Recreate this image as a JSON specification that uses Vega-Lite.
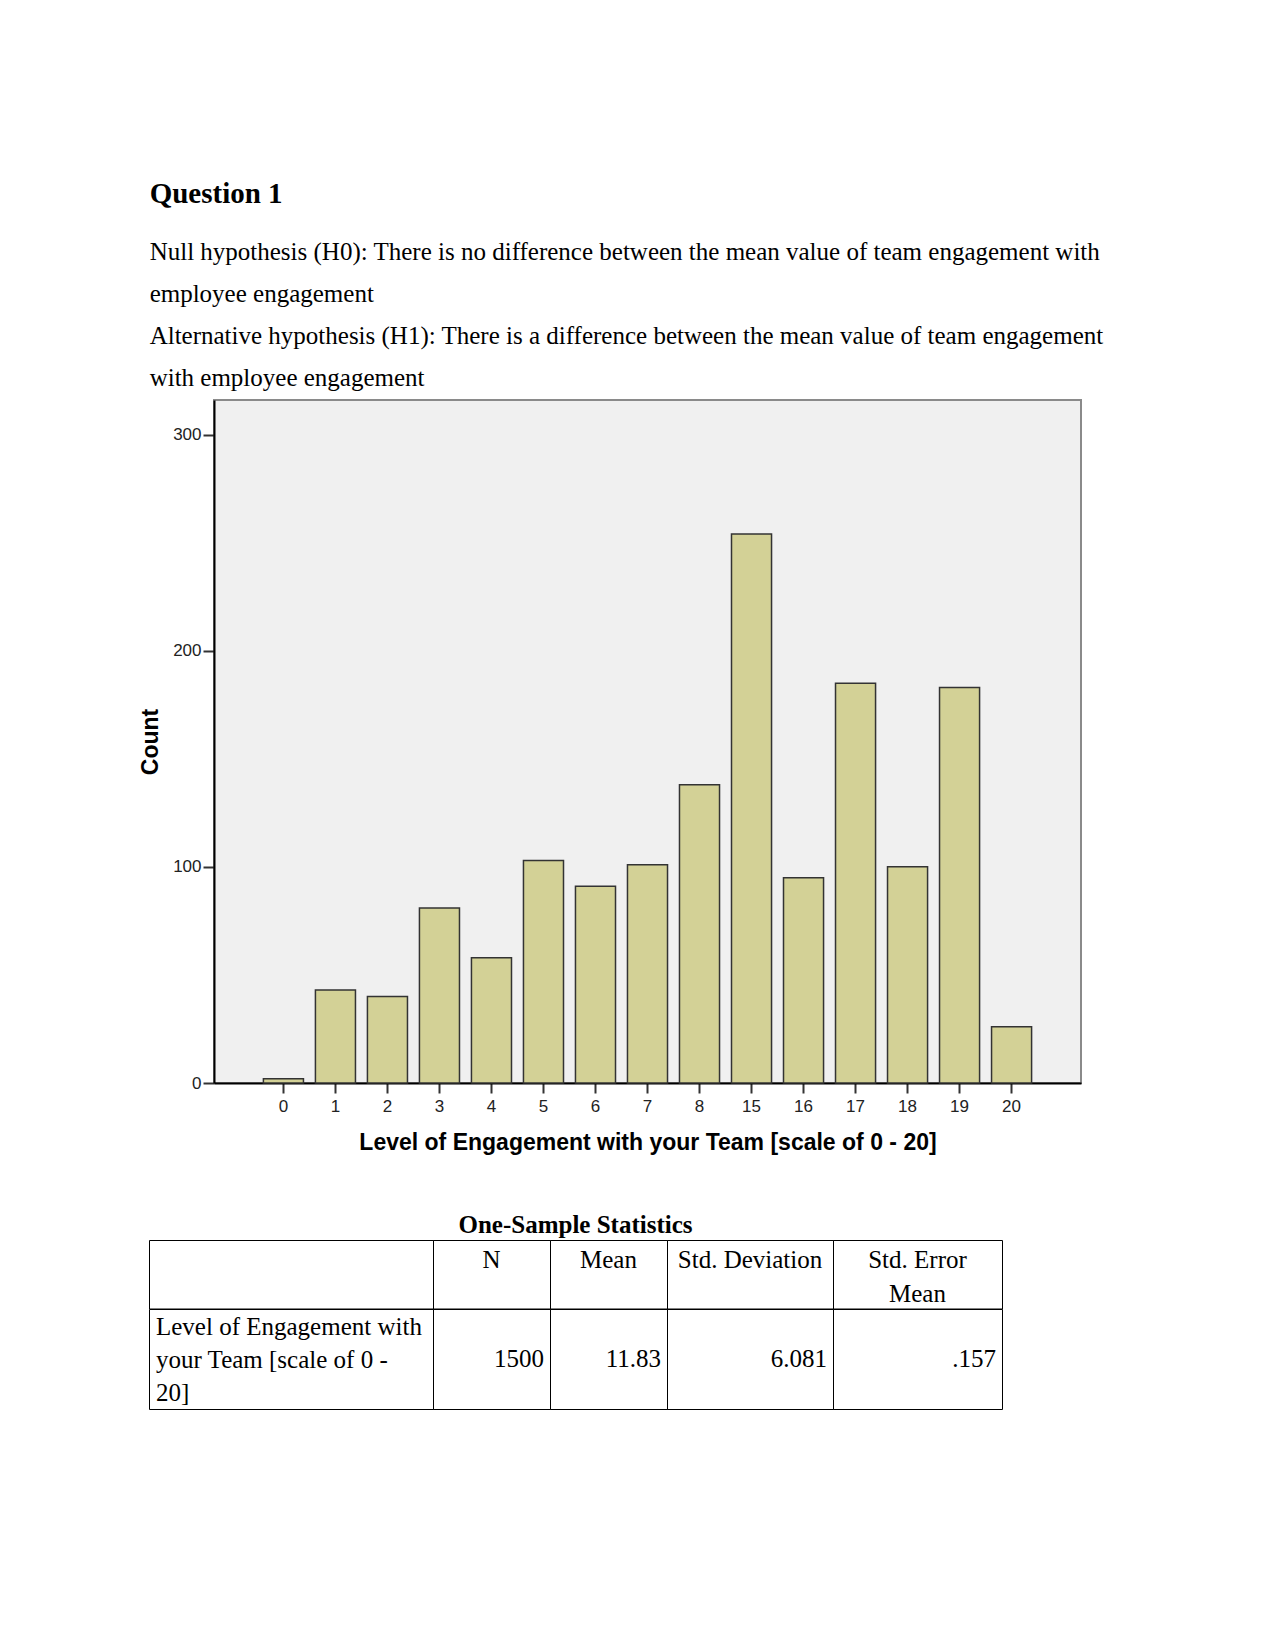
{
  "$schema": "https://vega.github.io/schema/vega-lite/v6.json",
  "background": "white",
  "padding": {"left": 138, "top": 179, "right": 5, "bottom": 5},
  "config": {
    "font": "Liberation Sans",
    "view": {"stroke": null},
    "concat": {"spacing": 0}
  },
  "datasets": {
    "bars": [
      {"level": "0", "count": 2},
      {"level": "1", "count": 43},
      {"level": "2", "count": 40},
      {"level": "3", "count": 81},
      {"level": "4", "count": 58},
      {"level": "5", "count": 103},
      {"level": "6", "count": 91},
      {"level": "7", "count": 101},
      {"level": "8", "count": 138},
      {"level": "15", "count": 254},
      {"level": "16", "count": 95},
      {"level": "17", "count": 185},
      {"level": "18", "count": 100},
      {"level": "19", "count": 183},
      {"level": "20", "count": 26}
    ],
    "stats": [
      {"col": "label", "header": "", "value": "Level of Engagement with\nyour Team [scale of 0 -\n20]"},
      {"col": "N", "header": "N", "value": "1500"},
      {"col": "Mean", "header": "Mean", "value": "11.83"},
      {"col": "SD", "header": "Std. Deviation", "value": "6.081"},
      {"col": "SE", "header": "Std. Error\nMean", "value": ".157"}
    ]
  },
  "spacing": 57,
  "vconcat": [
    {
      "spacing": -12,
      "hconcat": [
        {
          "data": {"values": [{}]},
          "width": 1,
          "height": 1,
          "mark": {"type": "text", "text": ""}
        },
        {
          "data": {"name": "bars"},
          "width": 867,
          "height": 683,
          "title": {
            "text": "Question 1",
            "subtitle": [
              "Null hypothesis (H0): There is no difference between the mean value of team engagement with",
              "employee engagement",
              "Alternative hypothesis (H1): There is a difference between the mean value of team engagement",
              "with employee engagement"
            ],
            "anchor": "start",
            "frame": "bounds",
            "dx": 10,
            "font": "Liberation Serif",
            "fontSize": 29,
            "fontWeight": "bold",
            "color": "black",
            "subtitleFont": "Liberation Serif",
            "subtitleFontSize": 25,
            "subtitleColor": "black",
            "subtitleLineHeight": 42,
            "subtitlePadding": 31,
            "offset": 9
          },
          "view": {"fill": "#f0f0f0", "stroke": "#8a8a8a", "strokeWidth": 2},
          "mark": {"type": "bar", "fill": "#d3d196", "stroke": "#333333", "strokeWidth": 1.5},
          "encoding": {
            "x": {
              "field": "level",
              "type": "ordinal",
              "sort": null,
              "scale": {"paddingInner": 0.23, "paddingOuter": 0.95},
              "axis": {
                "title": "Level of Engagement with your Team [scale of 0 - 20]",
                "titleFontSize": 23,
                "titleFontWeight": "bold",
                "titleColor": "black",
                "titlePadding": 17,
                "labelAngle": 0,
                "labelFontSize": 17,
                "labelColor": "#222222",
                "labelPadding": 5,
                "tickSize": 10,
                "tickWidth": 2,
                "tickColor": "#333333",
                "domainColor": "black",
                "domainWidth": 2
              }
            },
            "y": {
              "field": "count",
              "type": "quantitative",
              "scale": {"domain": [0, 316], "nice": false},
              "axis": {
                "title": "Count",
                "values": [0, 100, 200, 300],
                "grid": false,
                "titleFontSize": 23,
                "titleFontWeight": "bold",
                "titleColor": "black",
                "titlePadding": 10,
                "labelFontSize": 17,
                "labelColor": "#222222",
                "labelPadding": 2,
                "tickSize": 11,
                "tickWidth": 2,
                "tickColor": "#333333",
                "domainColor": "black",
                "domainWidth": 2
              }
            }
          }
        }
      ]
    },
    {
      "title": {
        "text": "One-Sample Statistics",
        "font": "Liberation Serif",
        "fontSize": 25,
        "fontWeight": "bold",
        "color": "black",
        "anchor": "middle",
        "frame": "bounds",
        "offset": 2
      },
      "spacing": -1,
      "vconcat": [
        {
          "spacing": 0,
          "bounds": "flush",
          "hconcat": [
            {"width": 284, "height": 68.5, "data": {"name": "stats"}, "transform": [{"filter": "datum.col == 'label'"}],
             "view": {"stroke": "black", "strokeWidth": 1},
             "mark": {"type": "text", "font": "Liberation Serif", "fontSize": 25, "baseline": "top", "lineHeight": 34, "lineBreak": "\n", "dy": 8, "color": "black"},
             "encoding": {"text": {"field": "header"}, "y": {"value": 0}}},
            {"width": 117, "height": 68.5, "data": {"name": "stats"}, "transform": [{"filter": "datum.col == 'N'"}],
             "view": {"stroke": "black", "strokeWidth": 1},
             "mark": {"type": "text", "font": "Liberation Serif", "fontSize": 25, "baseline": "top", "lineHeight": 34, "lineBreak": "\n", "dy": 8, "color": "black"},
             "encoding": {"text": {"field": "header"}, "y": {"value": 0}}},
            {"width": 117, "height": 68.5, "data": {"name": "stats"}, "transform": [{"filter": "datum.col == 'Mean'"}],
             "view": {"stroke": "black", "strokeWidth": 1},
             "mark": {"type": "text", "font": "Liberation Serif", "fontSize": 25, "baseline": "top", "lineHeight": 34, "lineBreak": "\n", "dy": 8, "color": "black"},
             "encoding": {"text": {"field": "header"}, "y": {"value": 0}}},
            {"width": 166, "height": 68.5, "data": {"name": "stats"}, "transform": [{"filter": "datum.col == 'SD'"}],
             "view": {"stroke": "black", "strokeWidth": 1},
             "mark": {"type": "text", "font": "Liberation Serif", "fontSize": 25, "baseline": "top", "lineHeight": 34, "lineBreak": "\n", "dy": 8, "color": "black"},
             "encoding": {"text": {"field": "header"}, "y": {"value": 0}}},
            {"width": 169, "height": 68.5, "data": {"name": "stats"}, "transform": [{"filter": "datum.col == 'SE'"}],
             "view": {"stroke": "black", "strokeWidth": 1},
             "mark": {"type": "text", "font": "Liberation Serif", "fontSize": 25, "baseline": "top", "lineHeight": 34, "lineBreak": "\n", "dy": 8, "color": "black"},
             "encoding": {"text": {"field": "header"}, "y": {"value": 0}}}
          ]
        },
        {
          "spacing": 0,
          "bounds": "flush",
          "hconcat": [
            {"width": 284, "height": 100, "data": {"name": "stats"}, "transform": [{"filter": "datum.col == 'label'"}],
             "view": {"stroke": "black", "strokeWidth": 1},
             "mark": {"type": "text", "font": "Liberation Serif", "fontSize": 25, "align": "left", "baseline": "middle", "lineHeight": 33, "lineBreak": "\n", "dx": 7, "dy": -32, "color": "black"},
             "encoding": {"text": {"field": "value"}, "x": {"value": 0}}},
            {"width": 117, "height": 100, "data": {"name": "stats"}, "transform": [{"filter": "datum.col == 'N'"}],
             "view": {"stroke": "black", "strokeWidth": 1},
             "mark": {"type": "text", "font": "Liberation Serif", "fontSize": 25, "align": "right", "baseline": "middle", "dx": -6, "color": "black"},
             "encoding": {"text": {"field": "value"}, "x": {"value": "width"}}},
            {"width": 117, "height": 100, "data": {"name": "stats"}, "transform": [{"filter": "datum.col == 'Mean'"}],
             "view": {"stroke": "black", "strokeWidth": 1},
             "mark": {"type": "text", "font": "Liberation Serif", "fontSize": 25, "align": "right", "baseline": "middle", "dx": -6, "color": "black"},
             "encoding": {"text": {"field": "value"}, "x": {"value": "width"}}},
            {"width": 166, "height": 100, "data": {"name": "stats"}, "transform": [{"filter": "datum.col == 'SD'"}],
             "view": {"stroke": "black", "strokeWidth": 1},
             "mark": {"type": "text", "font": "Liberation Serif", "fontSize": 25, "align": "right", "baseline": "middle", "dx": -6, "color": "black"},
             "encoding": {"text": {"field": "value"}, "x": {"value": "width"}}},
            {"width": 169, "height": 100, "data": {"name": "stats"}, "transform": [{"filter": "datum.col == 'SE'"}],
             "view": {"stroke": "black", "strokeWidth": 1},
             "mark": {"type": "text", "font": "Liberation Serif", "fontSize": 25, "align": "right", "baseline": "middle", "dx": -6, "color": "black"},
             "encoding": {"text": {"field": "value"}, "x": {"value": "width"}}}
          ]
        }
      ]
    }
  ]
}
